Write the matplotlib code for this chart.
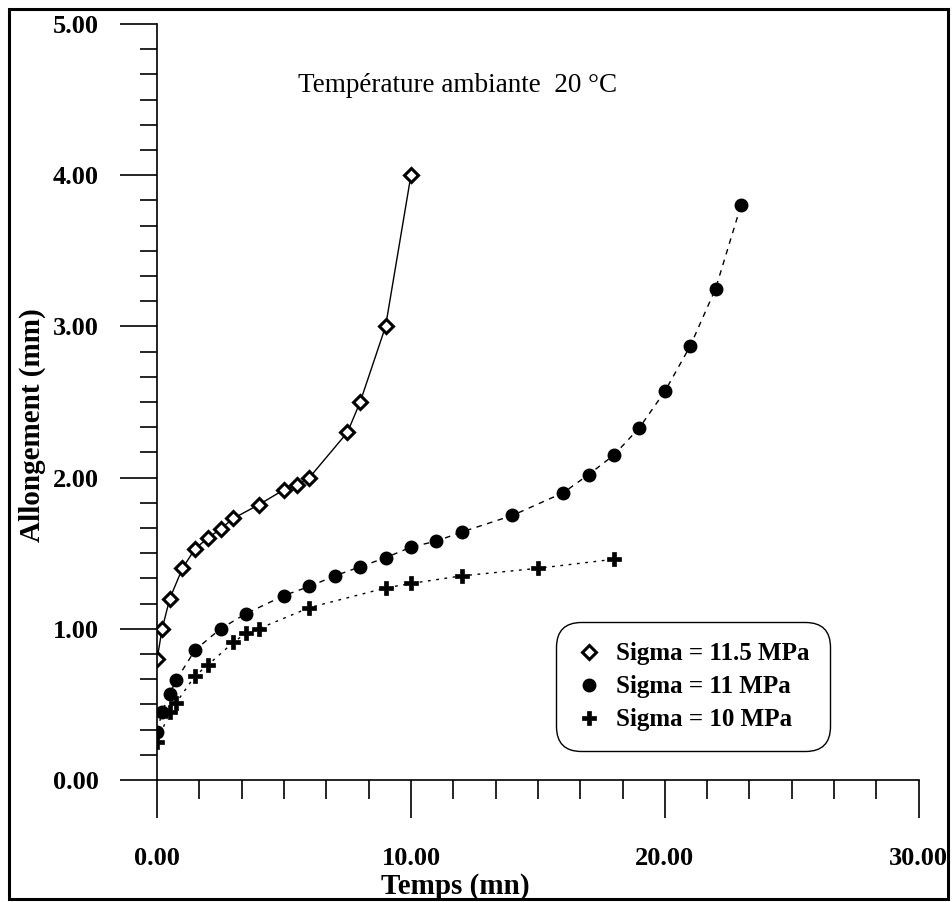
import matplotlib.pyplot as plt
from matplotlib.lines import Line2D
from matplotlib.patches import Rectangle
from matplotlib.ticker import MultipleLocator, AutoMinorLocator, FormatStrFormatter

# Sigma = 11.5 MPa
t_115 = [0, 0.2, 0.5, 1, 1.5, 2, 2.5, 3, 4, 5, 5.5, 6, 7.5, 8, 9, 10]
a_115 = [0.80, 1.00, 1.20, 1.40, 1.53, 1.60, 1.66, 1.73, 1.82, 1.92, 1.95, 2.00, 2.30, 2.50, 3.00, 4.00]

# Sigma = 11 MPa
t_11 = [0, 0.2, 0.5, 0.75, 1.5, 2.5, 3.5, 5, 6, 7, 8, 9, 10, 11, 12, 14, 16, 17, 18, 19, 20, 21, 22, 23]
a_11 = [0.32, 0.45, 0.57, 0.66, 0.86, 1.00, 1.10, 1.22, 1.28, 1.35, 1.41, 1.47, 1.54, 1.58, 1.64,
        1.75, 1.90, 2.02, 2.15, 2.33, 2.57, 2.87, 3.25, 3.80]

# Sigma = 10 MPa
t_10 = [0, 0.5, 0.75, 1.5, 2, 3, 3.5, 4, 6, 9, 10, 12, 15, 18]
a_10 = [0.25, 0.45, 0.51, 0.69, 0.76, 0.91, 0.97, 1.00, 1.14, 1.27, 1.30, 1.35, 1.40, 1.46]

labels = ['Sigma = 11.5 MPa', 'Sigma = 11 MPa', 'Sigma = 10 MPa']

plt.rcParams['font.family'] = ['Liberation Serif', 'DejaVu Serif']

fig = plt.figure(figsize=(9.52, 9.02), dpi=100)
ax = fig.add_axes([0.165, 0.1353, 0.8, 0.838])

st_115 = dict(marker='D', ms=7, mfc='white', mec='black', mew=2.2)
st_11 = dict(marker='o', ms=9, mfc='black', mec='black')
st_10 = dict(marker='P', ms=10, mfc='black', mec='black', mew=0.5)

ax.plot(t_115, a_115, color='black', lw=1.0, ls='-', **st_115)
ax.plot(t_11, a_11, color='black', lw=1.0, ls=(0, (4, 4)), **st_11)
ax.plot(t_10, a_10, color='black', lw=1.0, ls=(0, (2, 4)), **st_10)

ax.set_xlim(0, 30)
ax.set_ylim(0, 5)
ax.spines['top'].set_visible(False)
ax.spines['right'].set_visible(False)
ax.spines['left'].set_linewidth(1.2)
ax.spines['bottom'].set_linewidth(1.2)

ax.xaxis.set_major_locator(MultipleLocator(10))
ax.xaxis.set_minor_locator(AutoMinorLocator(6))
ax.yaxis.set_major_locator(MultipleLocator(1))
ax.yaxis.set_minor_locator(AutoMinorLocator(6))
ax.xaxis.set_major_formatter(FormatStrFormatter('%.2f'))
ax.yaxis.set_major_formatter(FormatStrFormatter('%.2f'))

ax.tick_params(axis='x', which='major', direction='out', length=27, width=1.2, pad=21)
ax.tick_params(axis='x', which='minor', direction='out', length=14, width=1.2)
ax.tick_params(axis='y', which='major', direction='out', length=27, width=1.2, pad=15)
ax.tick_params(axis='y', which='minor', direction='out', length=12, width=1.2)
for lab in ax.get_xticklabels() + ax.get_yticklabels():
    lab.set_fontsize(19)
    lab.set_fontweight('bold')

ax.set_xlabel('Temps (mn)', fontsize=21, fontweight='bold')
ax.set_ylabel('Allongement (mm)', fontsize=21, fontweight='bold')
ax.xaxis.set_label_coords(0.392, -0.1415)
ax.xaxis.label.set_va('center')
ax.yaxis.set_label_coords(-0.164, 0.47)
ax.yaxis.label.set_va('center')

ax.text(0.395, 0.919, 'Température ambiante  20 °C', transform=ax.transAxes,
        fontsize=19.5, ha='center', va='center')

handles = [Line2D([], [], ls='none', **st_115),
           Line2D([], [], ls='none', **st_11),
           Line2D([], [], ls='none', **st_10)]
leg = ax.legend(handles, labels, loc='center', bbox_to_anchor=(0.704, 0.123),
                prop={'family': 'Liberation Serif', 'weight': 'bold', 'size': 18},
                frameon=True, fancybox=True, edgecolor='black', framealpha=1,
                handlelength=1.0, handletextpad=0.6, labelspacing=0.4, borderpad=0.8)
leg.get_frame().set_linewidth(1.0)
leg.get_frame().set_boxstyle('round', pad=0, rounding_size=1.0)

fig.patches.append(Rectangle((0.0095, 0.0033), 0.986, 0.987, transform=fig.transFigure,
                             fill=False, edgecolor='black', lw=2.2))

fig.savefig('out.png', dpi=100)
